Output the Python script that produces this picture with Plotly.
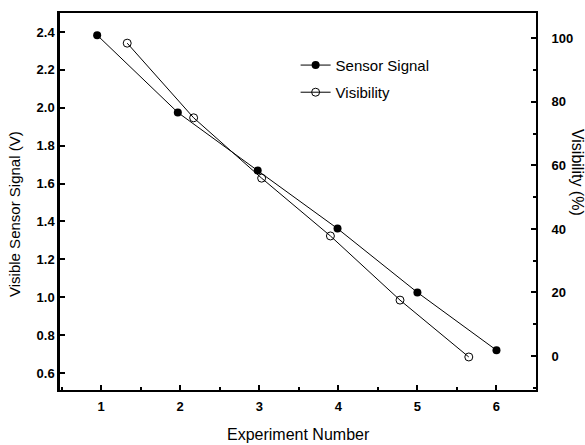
import plotly.graph_objects as go

sensor_x = [0.95, 1.97, 2.98, 3.99, 5.0, 6.0]
sensor_y = [2.383, 1.975, 1.668, 1.362, 1.025, 0.72]
vis_x = [1.33, 2.17, 3.03, 3.9, 4.78, 5.65]
vis_y = [98.5, 75.0, 56.0, 37.8, 17.6, -0.3]

x_ticks = [1, 2, 3, 4, 5, 6]
y_ticks = [0.6, 0.8, 1.0, 1.2, 1.4, 1.6, 1.8, 2.0, 2.2, 2.4]
y2_ticks = [0, 20, 40, 60, 80, 100]

FONT = "Liberation Sans, Arial, sans-serif"

fig = go.Figure()
fig.add_trace(go.Scatter(
    x=sensor_x, y=sensor_y, name="Sensor Signal", mode="lines+markers",
    line=dict(color="black", width=1),
    marker=dict(symbol="circle", size=8, color="black"),
    legend="legend", showlegend=True,
))
fig.add_trace(go.Scatter(
    x=vis_x, y=vis_y, name="Visibility", mode="lines+markers", yaxis="y2",
    line=dict(color="black", width=1),
    marker=dict(symbol="circle-open", size=8, color="black", line=dict(width=1)),
    legend="legend2", showlegend=True,
))

tickfont = dict(family=FONT, size=13, color="black", weight="bold")
fig.update_layout(
    width=585, height=445,
    margin=dict(l=60, r=49, t=13, b=55),
    paper_bgcolor="white", plot_bgcolor="white",
    font=dict(family=FONT, color="black"),
    showlegend=True,
    xaxis=dict(
        range=[0.48, 6.5], tickvals=x_ticks, ticks="inside", ticklen=5,
        tickwidth=1.5, tickcolor="black", ticklabelstandoff=3, automargin=False,
        minor=dict(dtick=0.5, tick0=0.5, ticks="inside", ticklen=3, tickcolor="black"),
        showline=True, linecolor="black", linewidth=2, mirror=True,
        showgrid=False, zeroline=False, tickfont=tickfont,
    ),
    yaxis=dict(
        range=[0.51, 2.5], tickvals=y_ticks, ticktext=[f"{v:.1f}" for v in y_ticks],
        ticks="inside", ticklen=5, tickwidth=1.5, tickcolor="black", automargin=False,
        showline=True, linecolor="black", linewidth=2.5,
        showgrid=False, zeroline=False, tickfont=tickfont,
    ),
    yaxis2=dict(
        range=[-10.7, 108], tickvals=y2_ticks, overlaying="y", side="right",
        ticks="inside", ticklen=5, tickwidth=1.5, tickcolor="black",
        ticklabelstandoff=11, automargin=False,
        minor=dict(dtick=10, tick0=0, ticks="inside", ticklen=3, tickcolor="black"),
        showline=True, linecolor="black", linewidth=2,
        showgrid=False, zeroline=False, tickfont=tickfont,
    ),
    legend=dict(x=0.495, y=0.905, xanchor="left", yanchor="top",
                bgcolor="rgba(0,0,0,0)", font=dict(size=15, family=FONT)),
    legend2=dict(x=0.495, y=0.833, xanchor="left", yanchor="top",
                 bgcolor="rgba(0,0,0,0)", font=dict(size=15, family=FONT)),
    annotations=[
        dict(text="Experiment Number", xref="paper", yref="paper", x=0.5, y=-0.119,
             xanchor="center", yanchor="middle", showarrow=False,
             font=dict(size=16, family=FONT)),
        dict(text="Visible Sensor Signal (V)", xref="paper", yref="paper",
             x=-0.0945, y=0.467, xanchor="center", yanchor="middle", showarrow=False,
             textangle=-90, font=dict(size=15, family=FONT)),
        dict(text="Visibility (%)", xref="paper", yref="paper",
             x=1.086, y=0.576, xanchor="center", yanchor="middle", showarrow=False,
             textangle=90, font=dict(size=16, family=FONT)),
    ],
)

fig.write_html("out.html")
